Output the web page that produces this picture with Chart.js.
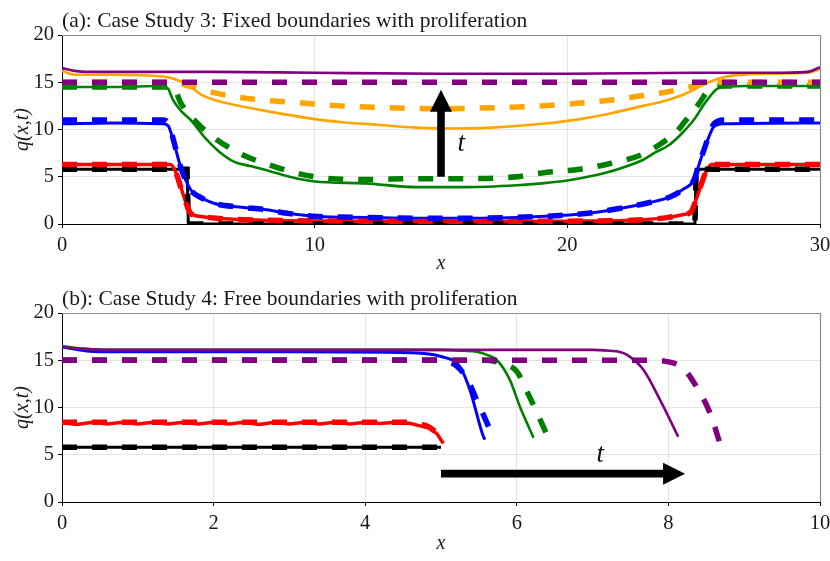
<!DOCTYPE html>
<html><head><meta charset="utf-8">
<script src="https://cdn.jsdelivr.net/npm/chart.js@4.4.1/dist/chart.umd.min.js"></script>
<style>
html,body{margin:0;padding:0;background:#fff;}
#wrap{position:relative;width:830px;height:561px;overflow:hidden;background:#fff;}
#ca{position:absolute;left:0;top:0;}
#cb{position:absolute;left:0;top:278px;}
</style></head><body>
<div id="wrap">
<canvas id="ca" width="830" height="280"></canvas>
<canvas id="cb" width="830" height="283"></canvas>
</div>
<script>
// ---------- Panel (a): Case Study 3 ----------
const A_TITLE = "(a): Case Study 3: Fixed boundaries with proliferation";
const A_PURPLE_SOLID_X = [0,0.5,1,3,6,10,15,20,25,28,29.5,30];
const A_PURPLE_SOLID_Y = [16.5,16.2,16.1,16.1,16.1,16.0,15.9,15.9,16.0,16.0,16.1,16.6];
const A_PURPLE_DASH_X = [0,30];
const A_PURPLE_DASH_Y = [15,15];
const A_ORANGE_SOLID_X = [0,0.5,2,4,4.5,5,5.5,6.5,8,10,11,12.5,14,15.5,17,19,20.5,21.7,23,23.7,24.5,25,25.5,26.3,27,28,29.5,30];
const A_ORANGE_SOLID_Y = [16.2,15.8,15.8,15.6,15.3,14.7,13.7,12.8,12.0,11.1,10.8,10.5,10.2,10.1,10.2,10.6,11.1,11.7,12.5,12.9,13.6,14.2,14.9,15.6,15.8,15.9,16.0,16.4];
const A_ORANGE_DASH_X = [0,4.5,5,6,7,8,9.5,11,13,15,17,19,20.5,22,23,24,25,25.5,26,30];
const A_ORANGE_DASH_Y = [15,15,14.6,13.9,13.4,13.1,12.8,12.5,12.3,12.2,12.3,12.5,12.8,13.2,13.6,14.0,14.6,14.9,15,15];
const A_GREEN_SOLID_X = [0,2,4,4.2,4.4,4.7,5.1,5.7,6.2,6.8,7.5,8.1,9,10,12,14,16,18,19,20,21,22,23,23.5,24,24.5,25,25.5,26,27,30];
const A_GREEN_SOLID_Y = [14.5,14.5,14.6,14.3,13.1,12.0,11.0,9.0,7.7,6.6,6.1,5.7,5.0,4.5,4.3,3.9,3.9,4.1,4.3,4.6,5.1,5.8,6.8,7.6,8.3,9.5,11.0,13.0,14.4,14.6,14.6];
const A_GREEN_DASH_X = [0,4.4,4.7,5.5,6.8,8.5,10,12,14,16,18,19,20.5,21.7,23,23.7,24.3,24.7,25.2,25.6,26,30];
const A_GREEN_DASH_Y = [14.5,14.5,12.8,10.3,7.8,6.0,5.0,4.7,4.8,4.8,5.0,5.4,5.8,6.4,7.4,8.5,9.7,11.0,12.7,14.2,14.6,14.6];
const A_BLUE_SOLID_X = [0,2,4,4.2,4.4,4.7,5.1,5.5,6,7,8.1,9,10.1,12,15,18,19.7,21,22.4,23.3,24.1,24.6,25,25.2,25.4,25.6,25.8,26.2,30];
const A_BLUE_SOLID_Y = [10.6,10.7,10.6,10.4,8.9,6.0,3.6,2.8,2.2,1.8,1.5,1.1,0.8,0.7,0.6,0.7,0.9,1.2,1.8,2.3,2.9,3.7,4.6,6.2,7.8,9.2,10.3,10.6,10.7];
const A_BLUE_DASH_X = A_BLUE_SOLID_X;
const A_BLUE_DASH_Y = [11.0,11.0,11.0,10.7,9.0,6.0,3.6,2.8,2.2,1.8,1.5,1.1,0.8,0.7,0.6,0.7,0.9,1.2,1.8,2.3,2.9,3.7,4.6,6.2,7.8,9.3,10.6,11.0,11.0];
const A_RED_SOLID_X = [0,4.3,4.5,4.7,4.9,5.1,5.5,6.1,8,12,16,20,22,23,24,24.6,24.9,25.1,25.3,25.5,25.7,30];
const A_RED_SOLID_Y = [6.3,6.3,5.5,3.9,2.3,1.1,0.8,0.6,0.4,0.3,0.25,0.3,0.35,0.45,0.7,1.0,1.3,2.6,4.2,5.6,6.3,6.3];
const A_RED_DASH_X = A_RED_SOLID_X;
const A_RED_DASH_Y = A_RED_SOLID_Y;
const A_BLACK_X = [0,4.95,5.0,25.05,25.1,30];
const A_BLACK_Y = [5.8,5.8,0,0,5.8,5.8];
const A_ARROW = {x0:15, y0:5.0, x1:15, y1:14.2};
const A_T_LABEL = {x:15.8, y:8.5, text:"t"};

// ---------- Panel (b): Case Study 4 ----------
const B_TITLE = "(b): Case Study 4: Free boundaries with proliferation";
const B_PURPLE_SOLID_X = [0,0.3,0.6,1,3,5,6,7,7.23,7.35,7.45,7.67,7.89,8.13];
const B_PURPLE_SOLID_Y = [16.4,16.2,16.1,16.1,16.1,16.1,16.1,16.1,16.0,15.9,15.6,14.0,10.8,6.9];
const B_PURPLE_DASH_X = [0,7.8,8.02,8.19,8.37,8.55,8.68];
const B_PURPLE_DASH_Y = [15,15,14.8,14.2,12.2,9.4,6.2];
const B_GREEN_SOLID_X = [0,0.3,0.6,1,3,5,5.3,5.47,5.6,5.74,5.91,6.04,6.22];
const B_GREEN_SOLID_Y = [16.5,16.2,16.1,16.1,16.1,16.1,16.0,15.9,15.6,15.0,12.9,10.1,6.8];
const B_GREEN_DASH_X = [0,5.6,5.78,6.0,6.17,6.41];
const B_GREEN_DASH_Y = [15,15,14.7,13.8,11.1,6.9];
const B_BLUE_SOLID_X = [0,0.3,0.6,1,3,4.6,5.0,5.25,5.38,5.56,5.58];
const B_BLUE_SOLID_Y = [16.4,16.0,15.9,15.9,15.9,15.8,15.4,14.3,11.9,6.9,6.6];
const B_BLUE_DASH_X = [0,4.9,5.12,5.34,5.47,5.67,5.69];
const B_BLUE_DASH_Y = [15,15,14.8,13.1,10.8,7.1,6.6];
const B_RED_SOLID_X = [0,0.2,0.4,0.6,0.8,1,1.2,1.4,1.6,1.8,2,2.2,2.4,2.6,2.8,3,3.2,3.4,3.6,3.8,4,4.2,4.4,4.6,4.75,4.85,4.95,5.03];
const B_RED_SOLID_Y = [8.4,8.2,8.45,8.25,8.45,8.25,8.45,8.25,8.45,8.25,8.45,8.25,8.45,8.2,8.45,8.25,8.45,8.25,8.45,8.25,8.45,8.3,8.45,8.3,8.0,7.8,7.2,6.2];
const B_RED_DASH_X = [0,1,2,3,4,4.6,4.75,4.85,4.95,5.03];
const B_RED_DASH_Y = [8.45,8.45,8.45,8.45,8.45,8.45,8.2,7.9,7.2,6.2];
const B_BLACK_X = [0,5];
const B_BLACK_Y = [5.8,5.8];
const B_ARROW = {x0:5.0, y0:3.0, x1:8.22, y1:3.0};
const B_T_LABEL = {x:7.1, y:5.0, text:"t"};

const X_A = {min:0, max:30, step:10};
const X_B = {min:0, max:10, step:2};
const Y_RANGE = {min:0, max:20, step:5};

const C = {purple:'#800080', orange:'#FFA500', green:'#008000', blue:'#0000FF', red:'#FF0000', black:'#000000'};
const SERIF = "'Liberation Serif','DejaVu Serif',serif";

function pts(xs, ys){ return xs.map((x,i)=>({x:x, y:ys[i]})); }
function solid(color, xs, ys, w, smooth){
  return {data:pts(xs,ys), borderColor:color, borderWidth:w||2.6, pointRadius:0, fill:false,
          cubicInterpolationMode: smooth===false ? 'default' : 'monotone', tension: smooth===false?0:0.4, order:1};
}
function dashed(color, xs, ys, smooth){
  return {data:pts(xs,ys), borderColor:color, borderWidth:5.5, borderDash:[15,15], borderCapStyle:'butt',
          pointRadius:0, fill:false, cubicInterpolationMode: smooth===false ? 'default' : 'monotone', tension: smooth===false?0:0.4, order:0};
}

function makeChart(canvasId, datasets, xr, axisH, titleText, arrow, tlabel, xTitlePad){
  const deco = {
    id:'deco',
    afterDatasetsDraw(chart){
      const {ctx, chartArea:a, scales:{x, y}} = chart;
      ctx.save();
      // top & right frame
      ctx.strokeStyle = '#8a8a8a'; ctx.lineWidth = 1.2;
      ctx.beginPath(); ctx.moveTo(a.left, a.top+0.5); ctx.lineTo(a.right+0.5, a.top+0.5); ctx.lineTo(a.right+0.5, a.bottom); ctx.stroke();
      // arrow
      const x0 = x.getPixelForValue(arrow.x0), y0 = y.getPixelForValue(arrow.y0);
      const x1 = x.getPixelForValue(arrow.x1), y1 = y.getPixelForValue(arrow.y1);
      const len = Math.hypot(x1-x0, y1-y0), ux=(x1-x0)/len, uy=(y1-y0)/len, px=-uy, py=ux;
      const hl = 22, hw = 11, sw = 3.8;
      const bx = x1 - ux*hl, by = y1 - uy*hl;
      ctx.fillStyle = '#000';
      ctx.beginPath();
      ctx.moveTo(x0 + px*sw, y0 + py*sw);
      ctx.lineTo(bx + px*sw, by + py*sw);
      ctx.lineTo(bx + px*hw, by + py*hw);
      ctx.lineTo(x1, y1);
      ctx.lineTo(bx - px*hw, by - py*hw);
      ctx.lineTo(bx - px*sw, by - py*sw);
      ctx.lineTo(x0 - px*sw, y0 - py*sw);
      ctx.closePath(); ctx.fill();
      // t label
      ctx.font = "italic 27px " + SERIF; ctx.textAlign='center'; ctx.textBaseline='middle'; ctx.fillStyle='#111';
      ctx.fillText(tlabel.text, x.getPixelForValue(tlabel.x), y.getPixelForValue(tlabel.y));
      // title
      ctx.font = "21.5px " + SERIF; ctx.textAlign='left'; ctx.textBaseline='alphabetic'; ctx.fillStyle='#1a1a1a';
      ctx.fillText(titleText, a.left, a.top - 8);
      ctx.restore();
    }
  };
  return new Chart(document.getElementById(canvasId), {
    type:'line',
    data:{datasets:datasets},
    options:{
      responsive:false, animation:false, devicePixelRatio:1,
      layout:{padding:{left:0, right:10, top:35, bottom:0}},
      plugins:{legend:{display:false}, tooltip:{enabled:false}, title:{display:false}},
      scales:{
        x:{type:'linear', min:xr.min, max:xr.max,
           afterFit(s){ s.height = axisH; s.paddingLeft = 0; s.paddingRight = 0; },
           afterBuildTicks(s){ s.ticks = []; for(let v=xr.min; v<=xr.max+1e-9; v+=xr.step) s.ticks.push({value:v}); },
           ticks:{stepSize:xr.step, color:'#1a1a1a', font:{family:SERIF, size:20.5}, padding:5, maxRotation:0},
           grid:{color:'rgba(0,0,0,0.1)', tickColor:'#000', tickLength:4, lineWidth:1},
           border:{color:'#000', width:1},
           title:{display:true, text:'x', color:'#1a1a1a', font:{family:SERIF, size:20, style:'italic'}, padding:{top:0,bottom:xTitlePad}}},
        y:{min:Y_RANGE.min, max:Y_RANGE.max,
           afterFit(s){ s.width = 62; s.paddingTop = 0; s.paddingBottom = 0; },
           ticks:{stepSize:Y_RANGE.step, color:'#1a1a1a', font:{family:SERIF, size:20.5}, padding:4},
           grid:{color:'rgba(0,0,0,0.1)', tickColor:'#000', tickLength:4, lineWidth:1},
           border:{color:'#000', width:1},
           title:{display:true, text:'q(x,t)', color:'#1a1a1a', font:{family:SERIF, size:20, style:'italic'}, padding:{top:11,bottom:0}}}
      }
    },
    plugins:[deco]
  });
}

makeChart('ca', [
  dashed(C.purple, A_PURPLE_DASH_X, A_PURPLE_DASH_Y),
  dashed(C.orange, A_ORANGE_DASH_X, A_ORANGE_DASH_Y),
  dashed(C.green, A_GREEN_DASH_X, A_GREEN_DASH_Y),
  dashed(C.blue, A_BLUE_DASH_X, A_BLUE_DASH_Y),
  dashed(C.red, A_RED_DASH_X, A_RED_DASH_Y),
  dashed(C.black, A_BLACK_X, A_BLACK_Y, false),
  solid(C.purple, A_PURPLE_SOLID_X, A_PURPLE_SOLID_Y),
  solid(C.orange, A_ORANGE_SOLID_X, A_ORANGE_SOLID_Y),
  solid(C.green, A_GREEN_SOLID_X, A_GREEN_SOLID_Y),
  solid(C.blue, A_BLUE_SOLID_X, A_BLUE_SOLID_Y, 3),
  solid(C.red, A_RED_SOLID_X, A_RED_SOLID_Y, 3.5),
  solid(C.black, A_BLACK_X, A_BLACK_Y, 3, false)
], X_A, 56, A_TITLE, A_ARROW, A_T_LABEL, 4);

makeChart('cb', [
  dashed(C.purple, B_PURPLE_DASH_X, B_PURPLE_DASH_Y),
  dashed(C.green, B_GREEN_DASH_X, B_GREEN_DASH_Y),
  dashed(C.blue, B_BLUE_DASH_X, B_BLUE_DASH_Y),
  dashed(C.red, B_RED_DASH_X, B_RED_DASH_Y),
  dashed(C.black, B_BLACK_X, B_BLACK_Y, false),
  solid(C.purple, B_PURPLE_SOLID_X, B_PURPLE_SOLID_Y),
  solid(C.green, B_GREEN_SOLID_X, B_GREEN_SOLID_Y),
  solid(C.blue, B_BLUE_SOLID_X, B_BLUE_SOLID_Y, 3),
  solid(C.red, B_RED_SOLID_X, B_RED_SOLID_Y, 3.5, false),
  solid(C.black, B_BLACK_X, B_BLACK_Y, 3, false)
], X_B, 59, B_TITLE, B_ARROW, B_T_LABEL, 5);
</script>
</body></html>
